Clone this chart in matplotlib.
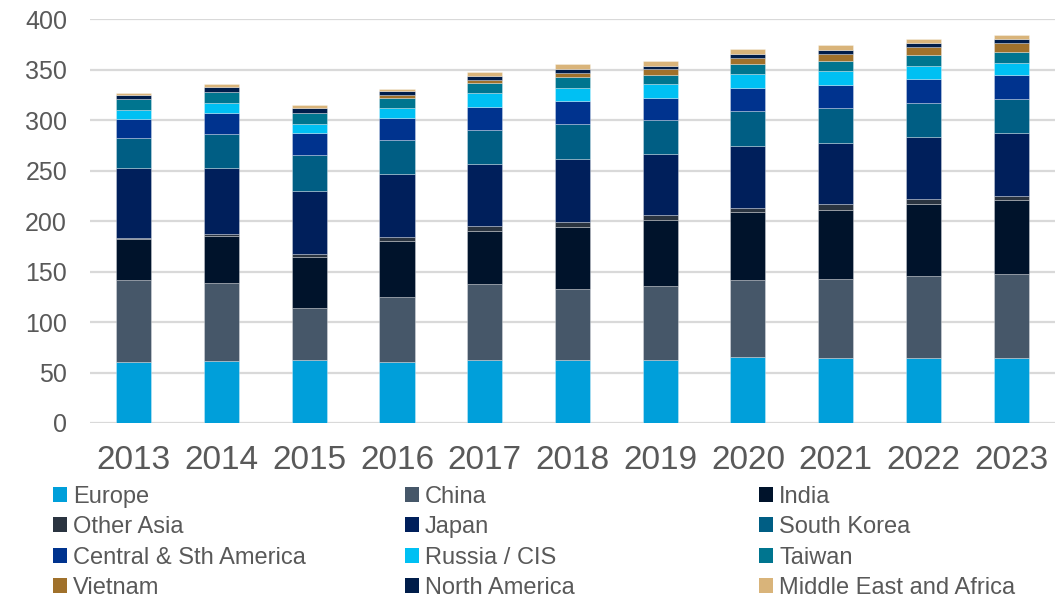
import matplotlib
matplotlib.use("Agg")
import matplotlib.pyplot as plt
from matplotlib.patches import Patch
import numpy as np

plt.rcParams['font.family'] = ['Liberation Sans', 'DejaVu Sans']

years = ["2013", "2014", "2015", "2016", "2017", "2018", "2019", "2020", "2021", "2022", "2023"]

europe = [60, 61, 62, 60, 62, 62, 62, 65, 64, 64, 64]
china = [82, 78, 52, 65, 76, 71, 74, 77, 79, 82, 84]
india = [40, 46, 50, 55, 52, 61, 65, 67, 68, 71, 73]
other_asia = [1.3, 2.6, 3.3, 4.3, 4.7, 4.9, 4.9, 4.4, 5.6, 5.0, 4.2]
japan = [69, 65, 63, 62, 62, 63, 61, 61, 61, 61, 62]
south_korea = [30, 34, 35, 34, 34, 34, 33, 35, 34, 34, 34]
central_sth_america = [18.5, 20.5, 22.4, 21.4, 22.8, 23.4, 22.4, 22.5, 23.4, 23.8, 23.1]
russia_cis = [9.2, 10.0, 8.6, 9.9, 13.5, 12.9, 13.2, 13.5, 13.2, 13.2, 12.8]
taiwan = [10.6, 10.5, 10.6, 10.6, 10.2, 10.3, 9.5, 9.9, 10.2, 10.2, 10.2]
vietnam = [0.3, 0.4, 0.5, 2.6, 2.6, 4.5, 5.7, 6.3, 7.3, 8.3, 8.9]
north_america = [4.0, 5.0, 5.0, 3.6, 4.3, 4.0, 3.3, 3.9, 3.6, 3.5, 4.0]
middle_east_africa = [2.0, 3.0, 3.0, 2.7, 3.3, 4.7, 4.9, 4.6, 4.7, 4.5, 4.3]

series = [
    ("Europe", europe, "#009FDA"),
    ("China", china, "#465769"),
    ("India", india, "#00132B"),
    ("Other Asia", other_asia, "#2A3440"),
    ("Japan", japan, "#001F5B"),
    ("South Korea", south_korea, "#005E84"),
    ("Central & Sth America", central_sth_america, "#00338E"),
    ("Russia / CIS", russia_cis, "#00C0F3"),
    ("Taiwan", taiwan, "#00758F"),
    ("Vietnam", vietnam, "#A0712B"),
    ("North America", north_america, "#001D4A"),
    ("Middle East and Africa", middle_east_africa, "#D9B47A"),
]

fig = plt.figure(figsize=(10.64, 6.0), dpi=100)
ax = fig.add_axes([0.0846, 0.295, 0.9069, 0.673])

x = np.arange(len(years))
bottom = np.zeros(len(years))
for name, vals, color in series:
    vals = np.array(vals, dtype=float)
    ax.bar(x, vals, width=0.4, bottom=bottom, color=color,
           edgecolor=(1, 1, 1, 0.35), linewidth=0.6, zorder=3)
    bottom += vals

ax.set_xlim(-0.5, len(years) - 0.5)
ax.set_ylim(0, 400)
ax.set_yticks(np.arange(0, 401, 50))
ax.set_xticks(x)
ax.set_xticklabels(years)
ax.grid(axis='y', color='#D9D9D9', linewidth=1.6, zorder=0)
ax.set_axisbelow(True)
for s in ax.spines.values():
    s.set_visible(False)
ax.tick_params(axis='both', length=0, colors='#595959')
ax.tick_params(axis='y', labelsize=18, pad=16.5)
ax.tick_params(axis='x', labelsize=24, pad=16)

# three legend columns, each placed on its own
cols = [[0, 3, 6, 9], [1, 4, 7, 10], [2, 5, 8, 11]]
xpos = [0.0494, 0.3805, 0.7134]
for ci, idxs in enumerate(cols):
    handles = [Patch(facecolor=series[i][2], edgecolor='none') for i in idxs]
    labels = [series[i][0] for i in idxs]
    fig.legend(handles, labels, loc='upper left', bbox_to_anchor=(xpos[ci], 0.19),
               frameon=False, fontsize=17, handlelength=0.6, handleheight=0.6,
               handletextpad=0.25, labelspacing=0.35, borderaxespad=0,
               borderpad=0, labelcolor='#595959')

fig.savefig("out.png", dpi=100)
